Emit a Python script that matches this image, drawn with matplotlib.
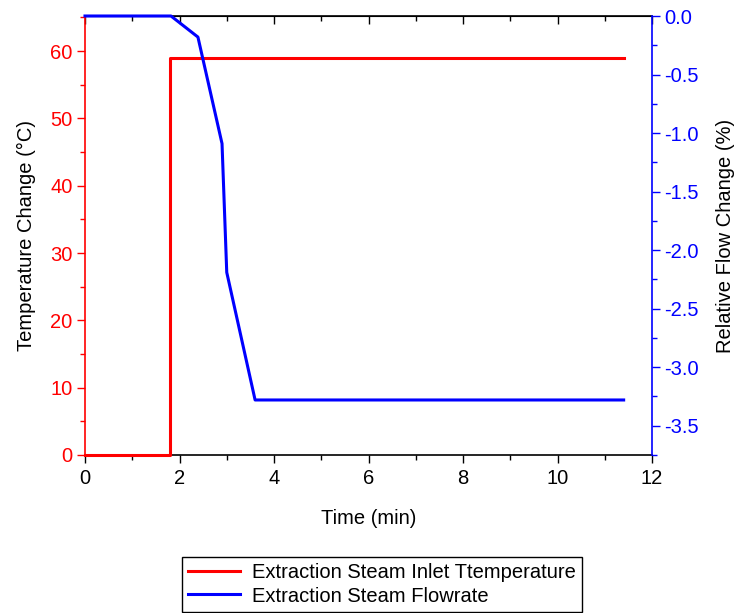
import matplotlib
matplotlib.use("Agg")
import matplotlib.pyplot as plt
from matplotlib.ticker import MultipleLocator

plt.rcParams['font.family'] = ['Liberation Sans', 'DejaVu Sans']

# Data
temp_time = [0, 1.8, 1.8, 11.4]
temp_change = [0, 0, 59, 59]
flow_time = [0, 1.82, 2.39, 2.9, 3.0, 3.6, 11.4]
flow_change = [0, 0, -0.18, -1.09, -2.19, -3.28, -3.28]

label_temp = "Extraction Steam Inlet Ttemperature"
label_flow = "Extraction Steam Flowrate"

fig = plt.figure(figsize=(7.35, 6.13), dpi=100)
ax = fig.add_axes([85/735, 158/613, 567/735, 439/613])
ax2 = ax.twinx()

fs = 14.5
l1, = ax.plot(temp_time, temp_change, color='#ff0000', lw=2.2, clip_on=False, zorder=3, label=label_temp)
l2, = ax2.plot(flow_time, flow_change, color='#0000ff', lw=2.2, clip_on=False, zorder=3, label=label_flow)

ax.set_xlim(0, 12)
ax.set_ylim(0, 65.2)
ax2.set_ylim(-3.75, 0)

ax.xaxis.set_major_locator(MultipleLocator(2))
ax.xaxis.set_minor_locator(MultipleLocator(1))
ax.yaxis.set_major_locator(MultipleLocator(10))
ax.yaxis.set_minor_locator(MultipleLocator(5))
ax2.yaxis.set_major_locator(MultipleLocator(0.5))
ax2.yaxis.set_minor_locator(MultipleLocator(0.25))

red = '#ff0000'
blue = '#0000ff'

ax.tick_params(axis='x', which='major', direction='out', length=6, width=1, labelsize=fs, colors='black', top=False, pad=4)
ax.tick_params(axis='x', which='minor', direction='out', length=3.5, width=1, top=False)
ax.tick_params(axis='y', which='major', direction='out', length=6, width=1, labelsize=fs, colors=red, right=False, pad=3)
ax.tick_params(axis='y', which='minor', direction='out', length=3.5, width=1, colors=red, right=False)
ax2.tick_params(axis='y', which='major', direction='out', length=6, width=1, labelsize=fs, colors=blue, pad=3)
ax2.tick_params(axis='y', which='minor', direction='out', length=3.5, width=1, colors=blue)

ax2.yaxis.set_major_formatter(matplotlib.ticker.FuncFormatter(lambda v, p: f"{v:.1f}".replace('\u2212', '-')))

secx = ax.secondary_xaxis('top')
secx.xaxis.set_major_locator(MultipleLocator(2))
secx.xaxis.set_minor_locator(MultipleLocator(1))
secx.tick_params(axis='x', which='major', direction='in', length=6, width=1, labeltop=False)
secx.tick_params(axis='x', which='minor', direction='in', length=3.5, width=1)
secx.spines['top'].set_color('black')

ax.spines['left'].set_color(red)
ax.spines['right'].set_visible(False)
ax.spines['bottom'].set_color('black')
ax2.spines['right'].set_color(blue)
for s in ['left', 'top', 'bottom']:
    ax2.spines[s].set_visible(False)
for sp in list(ax.spines.values()) + list(ax2.spines.values()):
    sp.set_linewidth(1.2)

ax.set_xlabel("Time (min)", fontsize=fs, labelpad=15)
ax.set_ylabel("Temperature Change (\u00b0C)", fontsize=fs, color='black', labelpad=10)
ax2.set_ylabel("Relative Flow Change (%)", fontsize=fs, color='black', labelpad=12)

leg = fig.legend(handles=[l1, l2], loc='center', bbox_to_anchor=(382/735, (613-584.5)/613),
                 fontsize=fs, frameon=True, fancybox=False, edgecolor='black', framealpha=1,
                 handlelength=2.6, borderpad=0.3, labelspacing=0.2, handletextpad=0.6, borderaxespad=0)
leg.get_frame().set_linewidth(1.0)

fig.savefig("out.png", dpi=100)
